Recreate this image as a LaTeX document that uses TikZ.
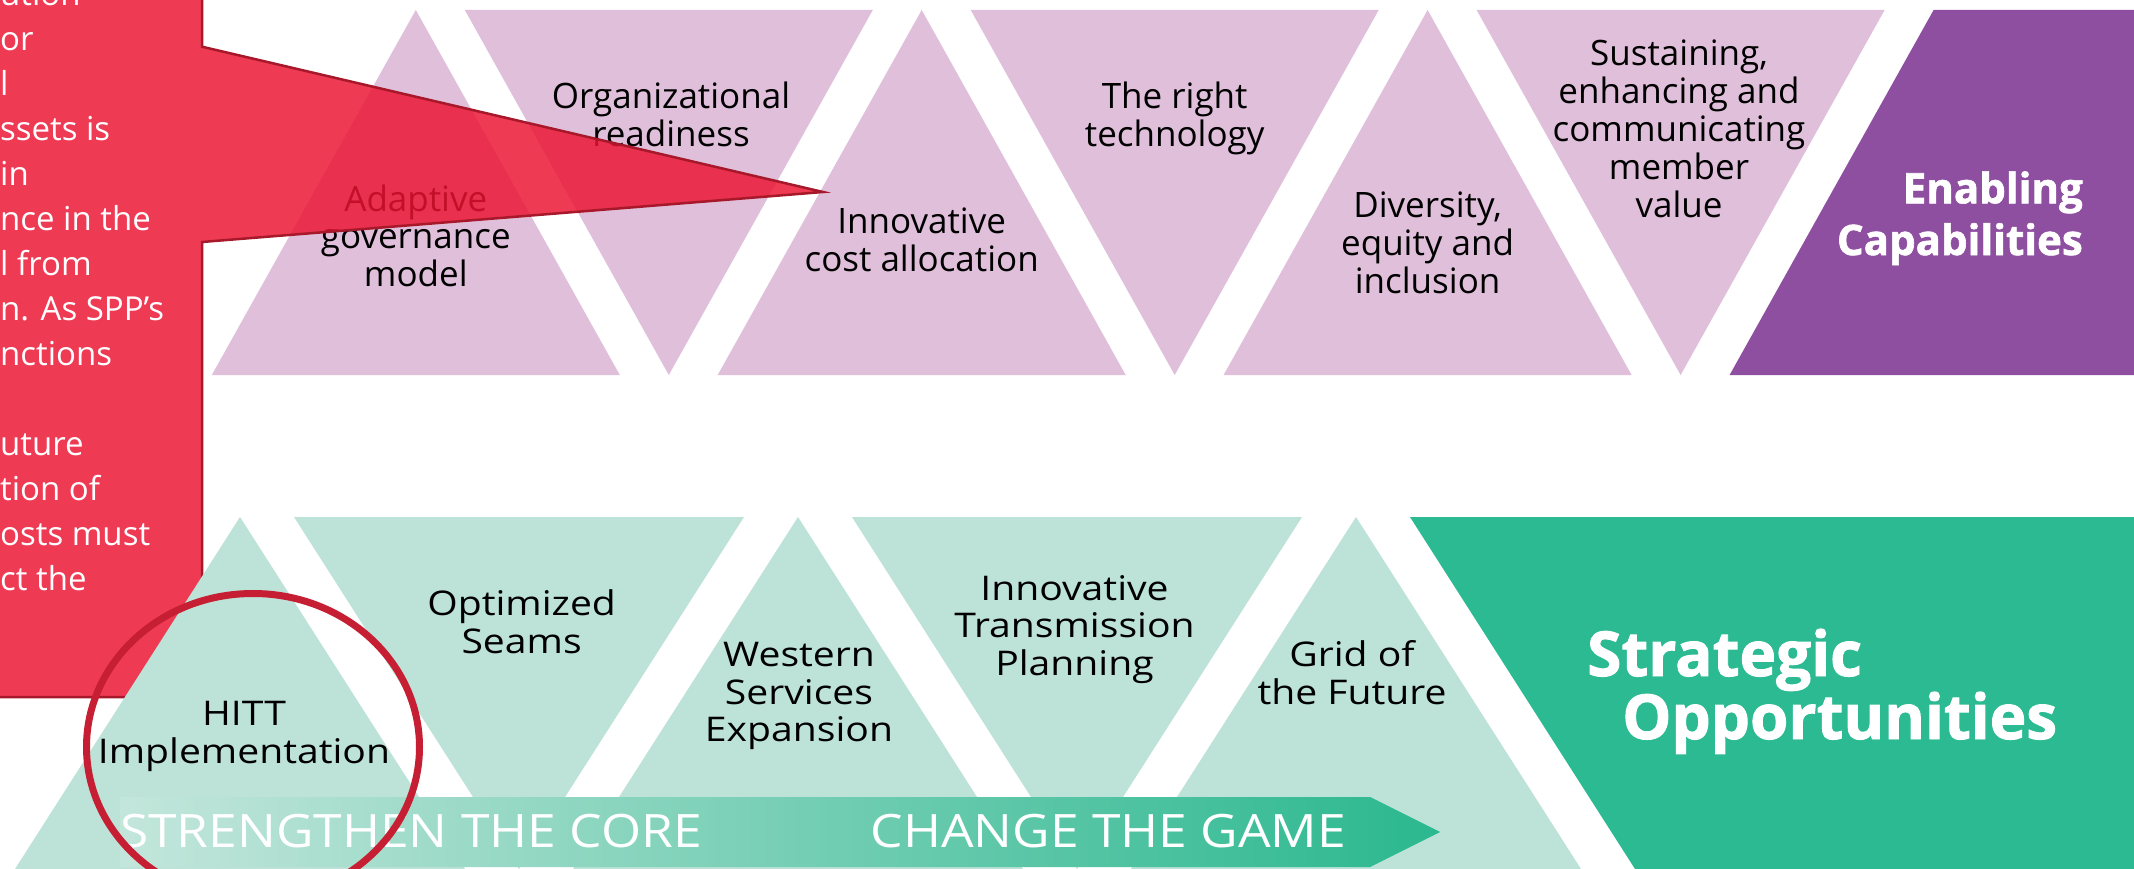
\documentclass[tikz,border=0pt]{standalone}
\usepackage{fontspec}
\setmainfont{Open Sans}
\newfontfamily\widelbl{Open Sans}[FakeStretch=1.15]
\newfontfamily\wideband{Open Sans}[FakeStretch=1.12]
\newfontfamily\heavyfont{Open Sans}[BoldFeatures={FakeBold=1.5}]
\definecolor{lpurple}{HTML}{E0BFDB}
\definecolor{dpurple}{HTML}{8E4FA0}
\definecolor{lgreen}{HTML}{BDE2D8}
\definecolor{dgreen}{HTML}{2BBA92}
\definecolor{callred}{HTML}{EC1332}
\definecolor{callborder}{HTML}{A8182B}
\definecolor{ringred}{HTML}{C61F33}
\definecolor{bandlight}{HTML}{C3E6DB}
\definecolor{banddark}{HTML}{2BB88F}
\begin{document}
\begin{tikzpicture}[x=1pt,y=-1pt,
  ptri/.style={fill=lpurple},
  gtri/.style={fill=lgreen},
  lbl/.style={font=\fontsize{35}{38}\selectfont, align=center, anchor=base, inner sep=0pt, text=black},
  blbl/.style={font=\widelbl\fontsize{34}{37.5}\selectfont, align=center, anchor=base, inner sep=0pt, text=black},
  calltext/.style={font=\fontsize{33}{45}\selectfont, align=left, anchor=base west, inner sep=0pt, text=white},
  bandtext/.style={font=\wideband\fontsize{46}{46}\selectfont, anchor=base west, inner sep=0pt, text=white},
  bigtext/.style={inner sep=0pt, text=white}]
\useasboundingbox (0,0) rectangle (2134,869);
\fill[white] (0,0) rectangle (2134,869);
% top row
\fill[ptri] (211.8,375) -- (415.8,10) -- (619.8,375) -- cycle;
\fill[ptri] (464.8,10) -- (872.8,10) -- (668.8,375) -- cycle;
\fill[ptri] (717.7,375) -- (921.7,10) -- (1125.7,375) -- cycle;
\fill[ptri] (970.7,10) -- (1378.7,10) -- (1174.7,375) -- cycle;
\fill[ptri] (1223.6,375) -- (1427.6,10) -- (1631.6,375) -- cycle;
\fill[ptri] (1476.6,10) -- (1884.6,10) -- (1680.6,375) -- cycle;
\fill[dpurple] (1729.6,375) -- (1933.6,10) -- (2140,10) -- (2140,375) -- cycle;
\node[lbl] (tA) at (415.8,287) {Adaptive\\governance\\model};
\node[lbl] (tB) at (671,147) {Organizational\\readiness};
\node[lbl] (tC) at (921.7,271) {Innovative\\cost allocation};
\node[lbl] (tD) at (1174.7,146.5) {The right\\technology};
\node[lbl] (tE) at (1427.6,293) {Diversity,\\equity and\\inclusion};
\node[lbl] (tF) at (1679,218) {Sustaining,\\enhancing and\\communicating\\member\\value};
\node[bigtext, font=\heavyfont\bfseries\fontsize{42}{51.7}\selectfont, align=right, anchor=base east] (enab) at (2083,255) {Enabling\\Capabilities};
% callout
\draw[callborder, line width=2.5pt, fill=callred, fill opacity=0.83]
  (-20,-20) -- (202,-20) -- (202,46.7) -- (823,192) -- (202,242)
  [rounded corners=8pt] -- (202,697) -- (-20,697) -- cycle;
\node[calltext] (ctext) at (0,590) {ution\\or\\l\\ssets is\\in\\nce in the\\l from\\n. As SPP’s\\nctions\\ \\uture\\tion of\\osts must\\ct the};
% bottom row
\fill[gtri] (15,869) -- (240,517) -- (465,869) -- cycle;
\fill[gtri] (294,517) -- (744,517) -- (519,869) -- cycle;
\fill[gtri] (573,869) -- (798,517) -- (1023,869) -- cycle;
\fill[gtri] (852,517) -- (1302,517) -- (1077,869) -- cycle;
\fill[gtri] (1131,869) -- (1356,517) -- (1581,869) -- cycle;
\fill[dgreen] (1410,517) -- (2140,517) -- (2140,869) -- (1635,869) -- cycle;
\node[blbl] (bA) at (244,763.3) {HITT\\Implementation};
\node[blbl] (bB) at (521.6,653.3) {Optimized\\Seams};
\node[blbl] (bC) at (799,741.7) {Western\\Services\\Expansion};
\node[blbl] (bD) at (1074.5,675) {Innovative\\Transmission\\Planning};
\node[blbl] (bE) at (1352,704) {Grid of\\the Future};
\node[bigtext, font=\heavyfont\bfseries\fontsize{62}{55}\selectfont, align=left, anchor=base west] (strat) at (1587,739) {Strategic\\\hspace*{35pt}Opportunities};
% band arrow
\shade[left color=bandlight, right color=banddark] (120,797) -- (1370,797) -- (1440,832) -- (1370,867) -- (120,867) -- cycle;
\node[bandtext] (core) at (120,847) {STRENGTHEN THE CORE};
\node[bandtext] (game) at (870.5,847) {CHANGE THE GAME};
% ring
\draw[ringred, line width=7pt] (253,747) ellipse [x radius=166.5, y radius=153.5];
\end{tikzpicture}
\end{document}
